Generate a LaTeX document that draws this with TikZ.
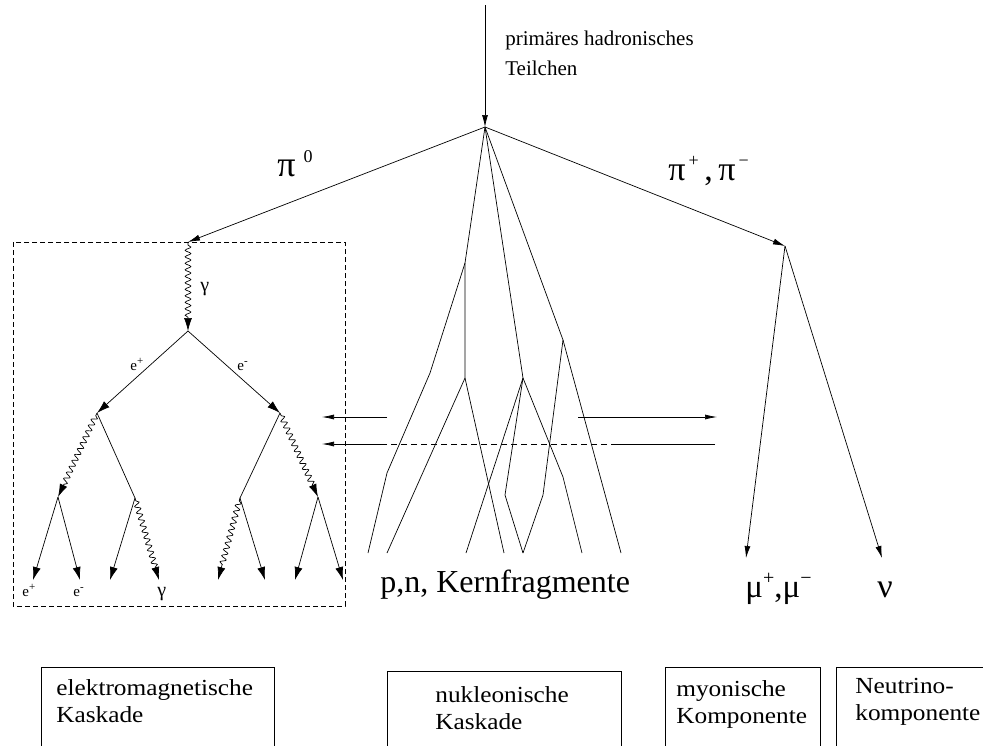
\documentclass[tikz,border=0pt]{standalone}
\usepackage{fontspec}
\setmainfont{Liberation Serif}
\newfontfamily\bxfont{Liberation Serif}[FakeStretch=1.1]
\usetikzlibrary{arrows.meta,decorations.pathmorphing}
\begin{document}
\begin{tikzpicture}[x=1pt,y=-1pt,line width=0.7pt,
  mainarrow/.style={-{Latex[length=12pt,width=6pt]}},
  emarrow/.style={-{Latex[length=13pt,width=8pt]}},
  sidearrow/.style={-{Latex[length=12pt,width=5pt]}},
  wavy/.style={decorate,decoration={snake,amplitude=2.8pt,segment length=6.5pt,pre length=3pt,post length=13pt}},
  lbl/.style={inner sep=0pt,anchor=base west},
  boxtxt/.style={inner sep=0pt,anchor=base west,align=left,font=\bxfont\fontsize{23}{27}\selectfont},
  boxline/.style={draw,line width=0.9pt}]
\clip (0,0) rectangle (983,745);
% ---- coordinates
\coordinate (top) at (485,5);
\coordinate (V0) at (485,127);
\coordinate (P0) at (188,242);
\coordinate (G1) at (188,331);
\coordinate (L1) at (97,413);
\coordinate (R1) at (280,413);
\coordinate (L2a) at (58,497);
\coordinate (L2b) at (135,498);
\coordinate (R2a) at (240,498);
\coordinate (R2b) at (318,497);
\coordinate (b1) at (33,580);
\coordinate (b2) at (80,580);
\coordinate (b3) at (110,580);
\coordinate (b4) at (159,580);
\coordinate (b5) at (218,580);
\coordinate (b6) at (265,580);
\coordinate (b7) at (295,580);
\coordinate (b8) at (343,580);
\coordinate (Ppm) at (785,246);
\coordinate (mu) at (746,558);
\coordinate (nu) at (882,558);
% nucleonic
\coordinate (n1) at (465,263);
\coordinate (n1b) at (465,378);
\coordinate (n1c) at (430,373);
\coordinate (n1d) at (387,473);
\coordinate (n2) at (523,378);
\coordinate (n2a) at (505,495);
\coordinate (n2b) at (563,477);
\coordinate (n3) at (563,340);
\coordinate (n3a) at (543,495);
\coordinate (e1) at (368,553);
\coordinate (e2) at (387,553);
\coordinate (e3) at (466,553);
\coordinate (e4) at (504,553);
\coordinate (e5) at (523,553);
\coordinate (e6) at (582,553);
\coordinate (e7) at (621,553);
% side arrows
\coordinate (hl1) at (387,417);
\coordinate (hl1e) at (322,417);
\coordinate (hr1) at (578,417);
\coordinate (hr1e) at (717,417);
\coordinate (h2s) at (715,444);
\coordinate (h2a) at (617,444);
\coordinate (h2b) at (383,444);
\coordinate (h2e) at (322,444);

% ---- main tree
\draw[mainarrow] (top) -- (V0);
\draw[mainarrow] (V0) -- (P0);
\draw[mainarrow] (V0) -- (Ppm);
\draw[mainarrow] (Ppm) -- (mu);
\draw[mainarrow] (Ppm) -- (nu);

% ---- nucleonic cascade
\draw (V0) -- (n1) -- (n1b);
\draw (n1) -- (n1c) -- (n1d) -- (e1);
\draw (n1b) -- (e2);
\draw (n1b) -- (e4);
\draw (V0) -- (n2) -- (e3);
\draw (n2) -- (n2a) -- (e5);
\draw (n2) -- (n2b) -- (e6);
\draw (V0) -- (n3) -- (n3a) -- (e5);
\draw (n3) -- (e7);

% ---- side arrows
\draw[sidearrow] (hl1) -- (hl1e);
\draw[sidearrow] (hr1) -- (hr1e);
\draw (h2s) -- (h2a);
\draw[dashed,dash pattern=on 6pt off 4pt] (h2a) -- (h2b);
\draw[sidearrow] (h2b) -- (h2e);

% ---- EM cascade
\draw[dashed,dash pattern=on 5pt off 3pt] (13,242) rectangle (345,606);
\draw[wavy,emarrow] (P0) -- (G1);
\draw[emarrow] (G1) -- (L1);
\draw[emarrow] (G1) -- (R1);
\draw[wavy,emarrow] (L1) -- (L2a);
\draw (L1) -- (L2b);
\draw (R1) -- (R2a);
\draw[wavy,emarrow] (R1) -- (R2b);
\draw[emarrow] (L2a) -- (b1);
\draw[emarrow] (L2a) -- (b2);
\draw[emarrow] (L2b) -- (b3);
\draw[wavy,emarrow] (L2b) -- (b4);
\draw[wavy,emarrow] (R2a) -- (b5);
\draw[emarrow] (R2a) -- (b6);
\draw[emarrow] (R2b) -- (b7);
\draw[emarrow] (R2b) -- (b8);

% ---- labels
\node[lbl,align=left,font=\fontsize{21}{30}\selectfont] (ptxt) at (505,75) {primäres hadronisches\\Teilchen};
\node[lbl,font=\fontsize{36}{36}\selectfont] (pi0) at (277,176) {π\hspace{8pt}\raisebox{14pt}{\fontsize{18}{18}\selectfont 0}};
\node[lbl,font=\fontsize{34}{34}\selectfont] (pipm) at (668,180) {π\raisebox{14pt}{\fontsize{18}{18}\selectfont\,+}\,,\,π\raisebox{14pt}{\fontsize{18}{18}\selectfont\,−}};
\node[lbl,font=\fontsize{15}{15}\selectfont] (ep1) at (130,370) {e\raisebox{6pt}{\fontsize{11}{11}\selectfont +}};
\node[lbl,font=\fontsize{15}{15}\selectfont] (em1) at (237,370) {e\raisebox{6pt}{\fontsize{11}{11}\selectfont -}};
\node[lbl,font=\fontsize{20}{20}\selectfont] (g1) at (200,291) {γ};
\node[lbl,font=\fontsize{15}{15}\selectfont] (ep2) at (22,596) {e\raisebox{6pt}{\fontsize{11}{11}\selectfont +}};
\node[lbl,font=\fontsize{15}{15}\selectfont] (em2) at (73,596) {e\raisebox{6pt}{\fontsize{11}{11}\selectfont -}};
\node[lbl,font=\fontsize{20}{20}\selectfont] (g2) at (157,596) {γ};
\node[lbl,font=\fontsize{32}{32}\selectfont] (pn) at (380,592) {p,n, Kernfragmente};
\node[lbl,font=\fontsize{33}{33}\selectfont] (mupm) at (745,597) {μ\raisebox{13pt}{\fontsize{20}{20}\selectfont +},μ\raisebox{13pt}{\fontsize{20}{20}\selectfont −}};
\node[lbl,font=\fontsize{34}{34}\selectfont] (nul) at (877,597) {ν};

% ---- bottom boxes
\draw[boxline] (41,667) rectangle (274,760);
\draw[boxline] (387,671) rectangle (621,760);
\draw[boxline] (665,667) rectangle (820,760);
\draw[boxline] (836,667) rectangle (1000,760);
\node[boxtxt] (t1) at (56,722) {elektromagnetische\\Kaskade};
\node[boxtxt] (t2) at (435,729) {nukleonische\\Kaskade};
\node[boxtxt] (t3) at (676,723) {myonische\\Komponente};
\node[boxtxt] (t4) at (855,720) {Neutrino-\\komponente};
\end{tikzpicture}
\end{document}
